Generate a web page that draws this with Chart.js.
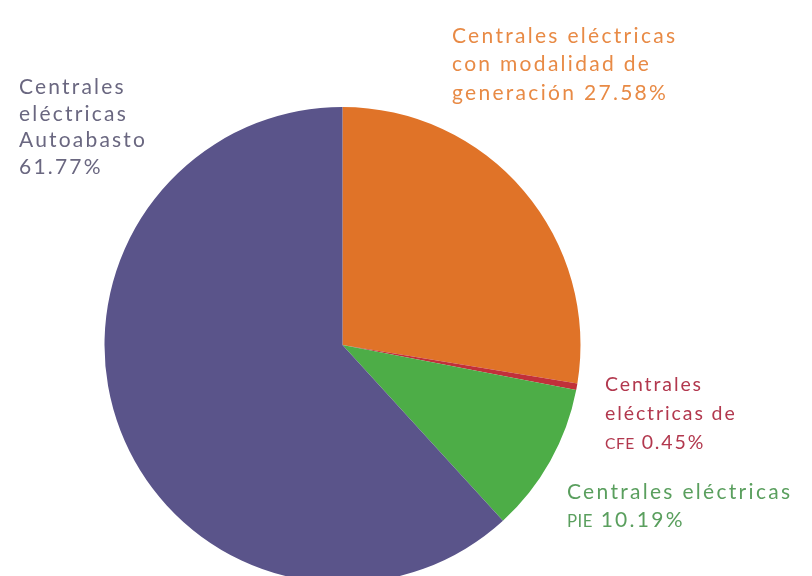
<!DOCTYPE html>
<html>
<head>
<meta charset="utf-8">
<script src="https://cdn.jsdelivr.net/npm/chart.js@4.4.1/dist/chart.umd.min.js"></script>
<style>
  html, body { margin: 0; padding: 0; background: #ffffff; overflow: hidden; width: 812px; height: 576px; }
  #wrap { position: relative; width: 812px; height: 620px; }
  #wrap canvas { position: absolute; left: 0; top: 0; }
  .lbl { position: absolute; font-family: Lato, "Open Sans", sans-serif; white-space: nowrap; }
  .lbl span.sc { font-size: 0.8em; letter-spacing: 0.5px; }
</style>
</head>
<body>
<div id="wrap"><canvas id="c" width="812" height="620"></canvas></div>
<script>
// ---- data ----
const categories = [
  "Centrales eléctricas con modalidad de generación",
  "Centrales eléctricas de CFE",
  "Centrales eléctricas PIE",
  "Centrales eléctricas Autoabasto"
];
const shares = [27.58, 0.45, 10.19, 61.77];
const shareLabels = ["27.58%", "0.45%", "10.19%", "61.77%"];
const labelLines = [
  ["Centrales eléctricas", "con modalidad de", "generación 27.58%"],
  ["Centrales", "eléctricas de", "<span class='sc'>CFE</span> 0.45%"],
  ["Centrales eléctricas", "<span class='sc'>PIE</span> 10.19%"],
  ["Centrales", "eléctricas", "Autoabasto", "61.77%"]
];

// ---- styles ----
const sliceColors = ["#e07328", "#c1303a", "#4dad47", "#5a548a"];
const textColors  = ["#e88a45", "#b2384e", "#5a9f5e", "#6a6780"];
const labelLayout = [
  { x: 452, y: 41, lh: 28.5, size: 21, ls: 2.3 },
  { x: 605, y: 390, lh: 29, size: 19.5, ls: 1.9 },
  { x: 567, y: 497, lh: 28, size: 21, ls: 2.3 },
  { x: 19,  y: 92, lh: 26.7, size: 21, ls: 2.2 }
];

new Chart(document.getElementById('c'), {
  type: 'pie',
  data: {
    labels: categories,
    datasets: [{
      data: shares,
      backgroundColor: sliceColors,
      borderWidth: 0
    }]
  },
  options: {
    responsive: false,
    animation: false,
    layout: { padding: { left: 104.5, top: 107, right: 231.5, bottom: 37 } },
    plugins: { legend: { display: false }, tooltip: { enabled: false } }
  }
});

// text labels (baseline positioned)
const wrap = document.getElementById('wrap');
labelLines.forEach((lines, i) => {
  const L = labelLayout[i];
  lines.forEach((ln, j) => {
    const d = document.createElement('div');
    d.className = 'lbl';
    d.style.left = L.x + 'px';
    d.style.fontSize = L.size + 'px';
    d.style.letterSpacing = L.ls + 'px';
    d.style.color = textColors[i];
    d.style.lineHeight = '1';
    d.style.top = (L.y + j * L.lh - 0.81 * L.size) + 'px';
    d.innerHTML = ln;
    wrap.appendChild(d);
  });
});
</script>
</body>
</html>
